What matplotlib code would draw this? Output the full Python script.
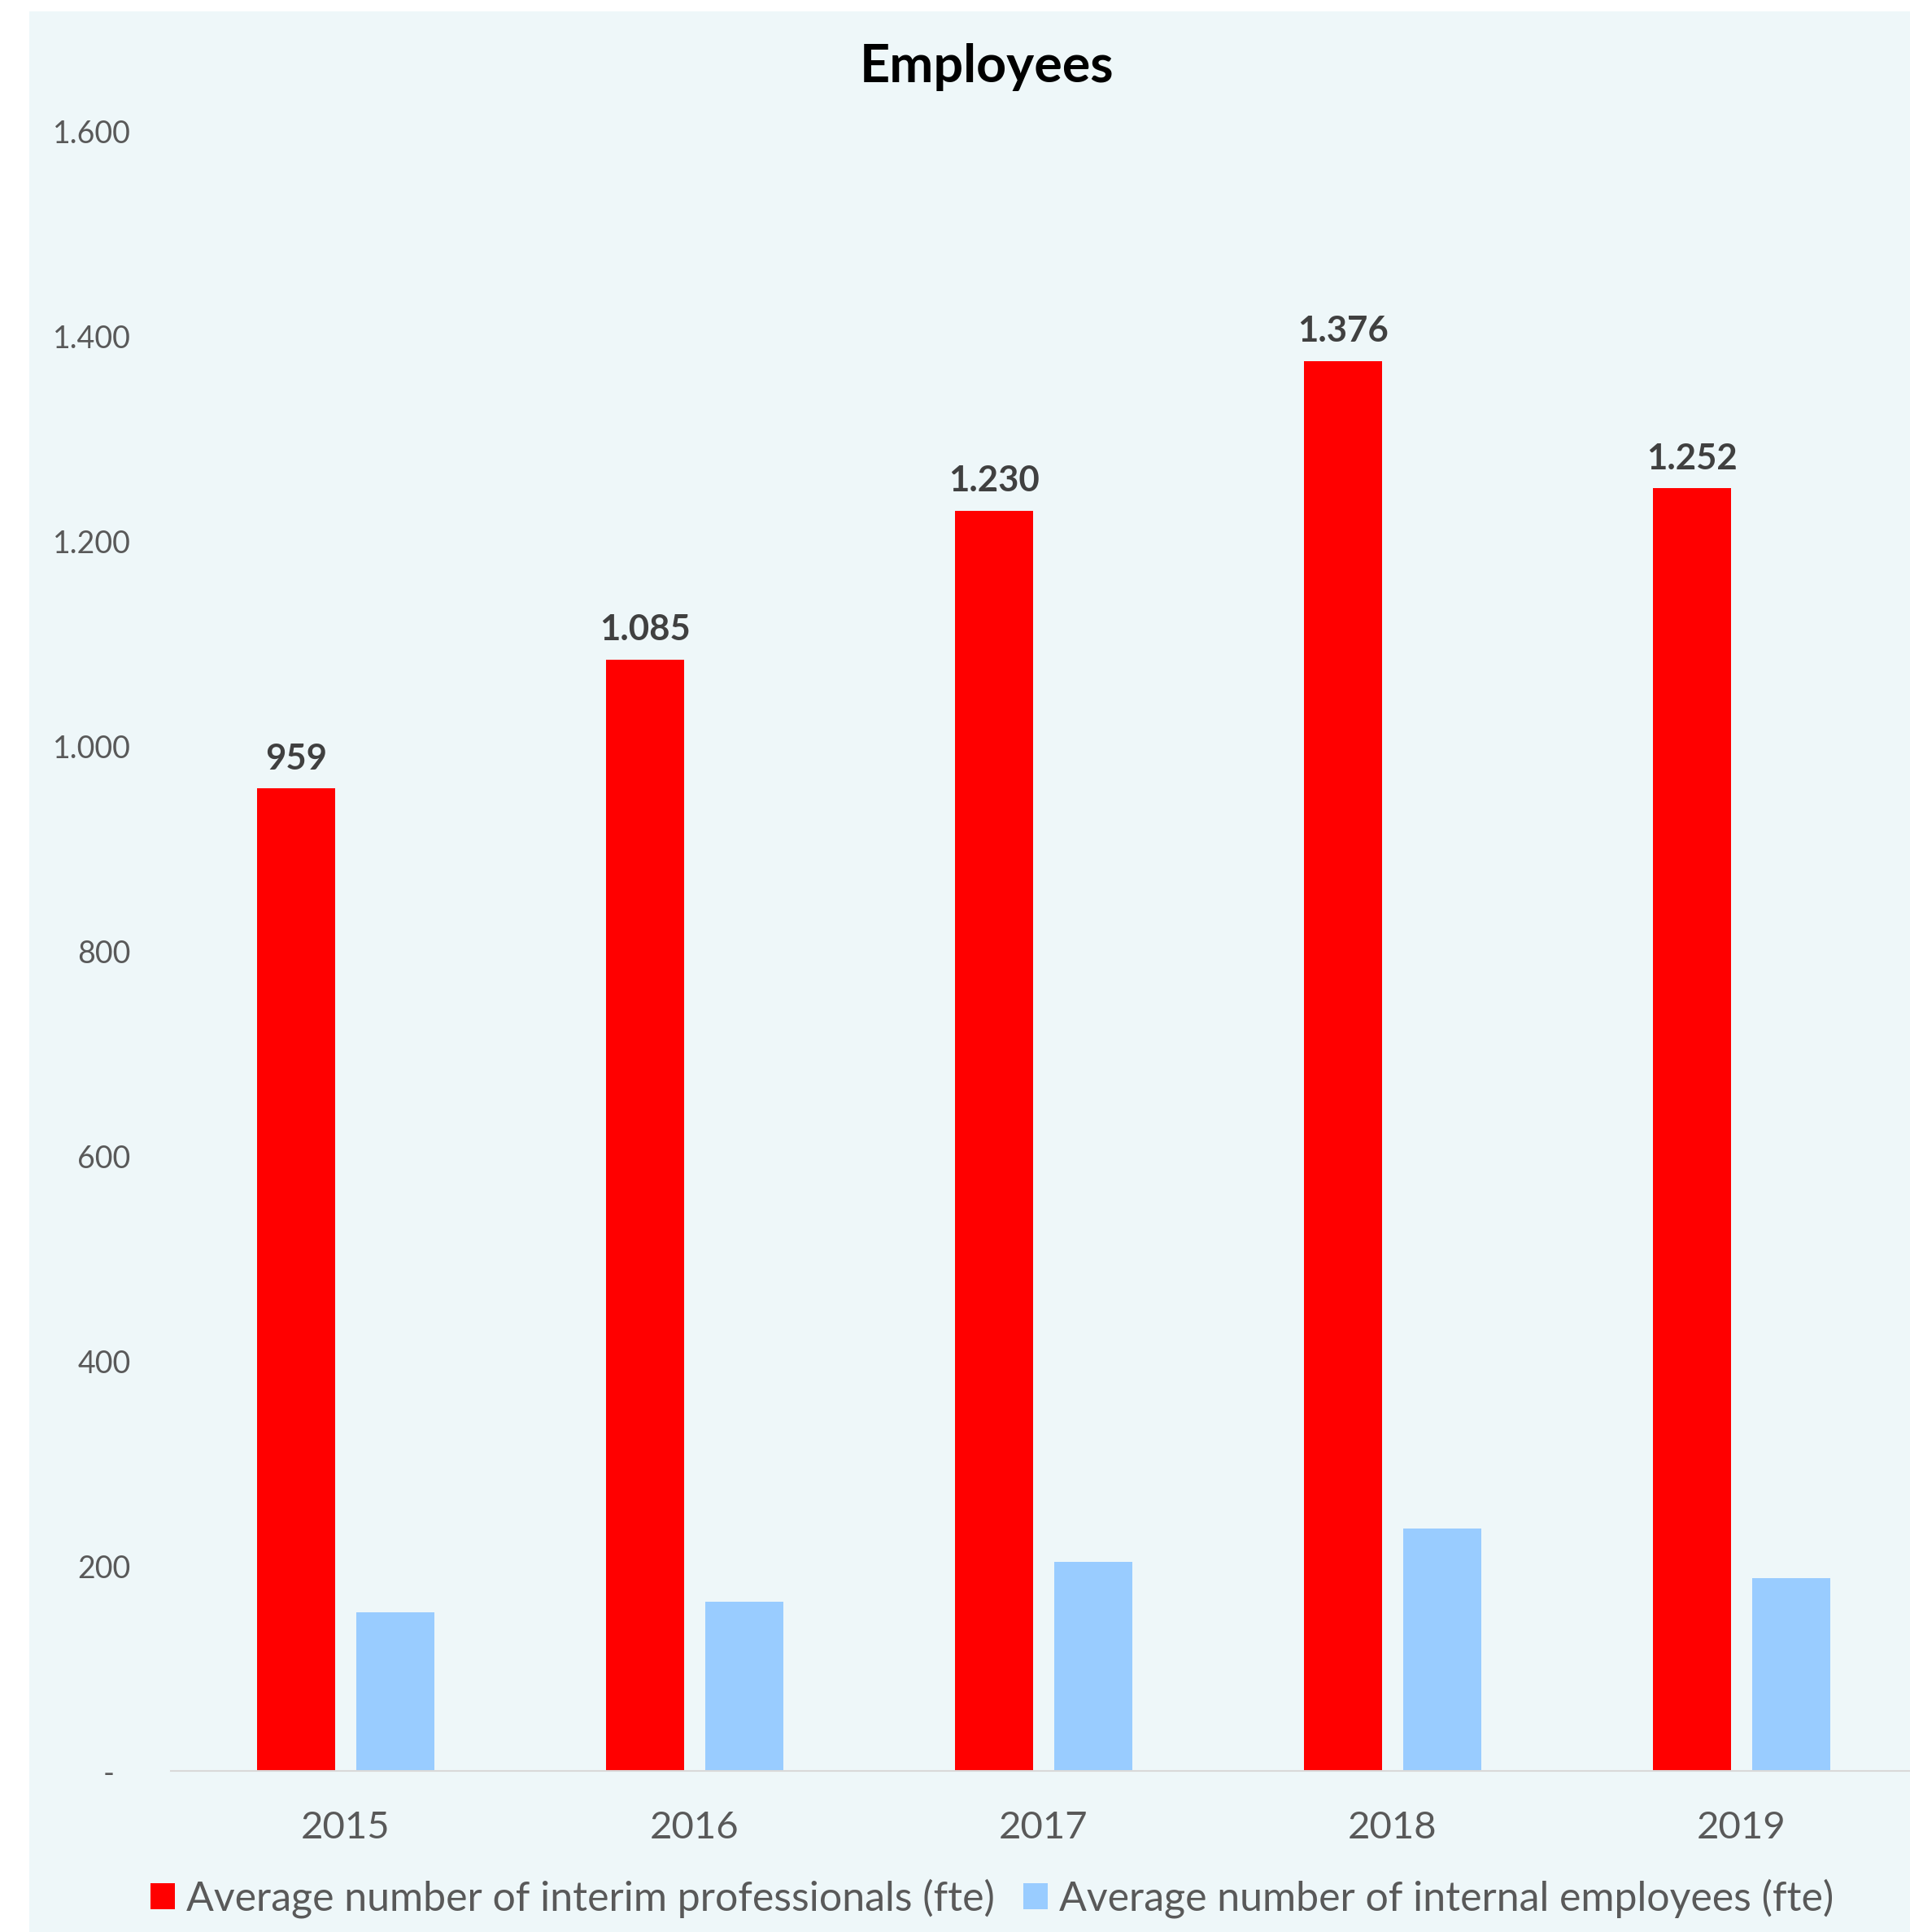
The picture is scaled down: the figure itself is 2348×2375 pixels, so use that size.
import matplotlib
matplotlib.use('Agg')
import matplotlib.pyplot as plt
import numpy as np
from matplotlib.patches import Rectangle, Patch

# data
years = ['2015', '2016', '2017', '2018', '2019']
interim = [959, 1085, 1230, 1376, 1252]
internal = [155, 165, 204, 237, 188]
interim_labels = ['959', '1.085', '1.230', '1.376', '1.252']
yticks = [0, 200, 400, 600, 800, 1000, 1200, 1400, 1600]
ytick_labels = ['-  ', '200', '400', '600', '800', '1.000', '1.200', '1.400', '1.600']

red = '#FF0000'
blue = '#99CCFF'
panel = '#EEF7F9'
grey_text = '#595959'

plt.rcParams['font.family'] = ['Lato', 'DejaVu Sans']

W, H = 2348, 2375
fig = plt.figure(figsize=(W / 100, H / 100), dpi=100)
fig.patch.set_facecolor('white')

# light panel behind the chart
fig.patches.append(Rectangle((36 / W, 0), 1 - 36 / W, 1 - 14 / H,
                             transform=fig.transFigure, facecolor=panel,
                             edgecolor='none', zorder=-10))

ax = fig.add_axes([210.4 / W, (H - 2177) / H, 2145.2 / W, 2015 / H])
ax.set_facecolor('none')
ax.set_zorder(1)

x = np.arange(len(years))
bw = 0.2246
off = 0.142
bars1 = ax.bar(x - off, interim, bw, color=red, zorder=2)
bars2 = ax.bar(x + off, internal, bw, color=blue, zorder=2)

ax.bar_label(bars1, labels=interim_labels, padding=12, fontsize=31.5,
             fontweight='bold', color='#404040')

ax.set_xlim(-0.5, 4.5)
ax.set_ylim(0, 1600)
ax.set_yticks(yticks)
ax.set_yticklabels(ytick_labels)
ax.set_xticks(x)
ax.set_xticklabels(years)

for s in ['top', 'right', 'left']:
    ax.spines[s].set_visible(False)
ax.spines['bottom'].set_color('#D9D9D9')
ax.spines['bottom'].set_linewidth(1.5)

ax.tick_params(axis='y', length=0, pad=36, labelsize=27, labelcolor=grey_text)
ax.tick_params(axis='x', length=0, pad=35, labelsize=34, labelcolor=grey_text)

fig.text(1213 / W, 1 - 82 / H, 'Employees', ha='center', va='center',
         fontsize=46.5, fontweight='bold', color='black')

handles = [Patch(facecolor=red, edgecolor='none'),
           Patch(facecolor=blue, edgecolor='none')]
fig.legend(handles,
           ['Average number of interim professionals (fte)',
            'Average number of internal employees (fte)'],
           loc='center', bbox_to_anchor=(1220 / W, (H - 2334) / H),
           ncol=2, frameon=False, fontsize=36, labelcolor=grey_text,
           handlelength=0.6, handleheight=0.6, handletextpad=0.28,
           columnspacing=0.7, borderpad=0, borderaxespad=0)

fig.savefig('out.png', dpi=100, facecolor=fig.get_facecolor())
